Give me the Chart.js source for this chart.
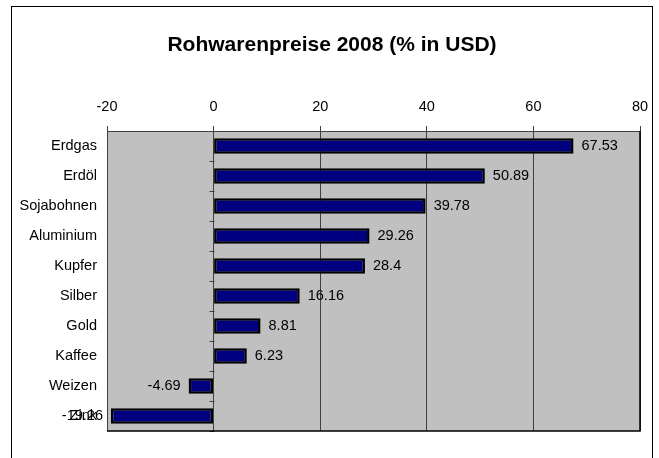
<!DOCTYPE html>
<html>
<head>
<meta charset="utf-8">
<script src="https://cdn.jsdelivr.net/npm/chart.js@4/dist/chart.umd.min.js"></script>
<style>
  html, body { margin: 0; padding: 0; background: #fff; }
  #wrap { width: 659px; height: 458px; }
</style>
</head>
<body>
<div id="wrap"><canvas id="c" width="659" height="458"></canvas></div>
<script>
// data
const categories = ['Erdgas', 'Erdöl', 'Sojabohnen', 'Aluminium', 'Kupfer', 'Silber', 'Gold', 'Kaffee', 'Weizen', 'Zink'];
const values = [67.53, 50.89, 39.78, 29.26, 28.4, 16.16, 8.81, 6.23, -4.69, -19.26];
const xMin = -20, xMax = 80, xStep = 20;
const titleText = 'Rohwarenpreise 2008 (% in USD)';

const FONT = '"Liberation Sans", Arial, sans-serif';
const GRID = '#404040';

// gray plot area, outer frame and title
const bgPlugin = {
    id: 'bg',
    beforeDraw(chart) {
        const { ctx, chartArea: a } = chart;
        ctx.save();
        ctx.fillStyle = '#fff';
        ctx.fillRect(0, 0, chart.width, chart.height);
        ctx.fillStyle = '#c0c0c0';
        ctx.fillRect(a.left, a.top, a.right - a.left, a.bottom - a.top);
        //frame round the whole chart
        ctx.strokeStyle = '#000';
        ctx.lineWidth = 1;
        ctx.strokeRect(11.5, 6.5, 641, chart.height);
        //title, centred in the frame
        ctx.fillStyle = '#000';
        ctx.font = 'bold 21px ' + FONT;
        ctx.textAlign = 'center';
        ctx.textBaseline = 'middle';
        ctx.fillText(titleText, 332, 45);
        ctx.restore();
    },
    beforeDatasetsDraw(chart) {
        const { ctx, chartArea: a, scales } = chart;
        const x0 = Math.round(scales.x.getPixelForValue(0)) + 0.5;
        ctx.save();
        ctx.strokeStyle = GRID;
        ctx.lineWidth = 1;
        ctx.beginPath();
        //small tick marks on the category axis (at zero)
        for (let i = 0; i <= categories.length; i++) {
            const y = Math.round(scales.y.getPixelForValue(i - 0.5)) + 0.5;
            ctx.moveTo(x0 - 5, y);
            ctx.lineTo(x0, y);
        }
        ctx.stroke();
        //black right and bottom border of the plot
        ctx.strokeStyle = '#000';
        ctx.lineWidth = 1.5;
        ctx.beginPath();
        ctx.moveTo(a.right, a.top);
        ctx.lineTo(a.right, a.bottom);
        ctx.lineTo(a.left, a.bottom);
        ctx.stroke();
        ctx.restore();
    }
};

// value labels next to the bar ends
const labelPlugin = {
    id: 'vlabels',
    afterDatasetsDraw(chart) {
        const { ctx } = chart;
        const meta = chart.getDatasetMeta(0);
        ctx.save();
        ctx.font = '14.5px ' + FONT;
        ctx.fillStyle = '#000';
        ctx.textBaseline = 'middle';
        meta.data.forEach((bar, i) => {
            const v = values[i];
            if (v >= 0) {
                ctx.textAlign = 'left';
                ctx.fillText(String(v), bar.x + 8, bar.y);
            } else {
                ctx.textAlign = 'right';
                ctx.fillText(String(v), bar.x - 8, bar.y);
            }
        });
        ctx.restore();
    }
};

new Chart(document.getElementById('c'), {
    type: 'bar',
    data: {
        labels: categories,
        datasets: [{
            data: values,
            backgroundColor: '#000080',
            borderColor: '#000',
            borderWidth: 2.5,
            borderSkipped: false,
            barPercentage: 0.52,
            categoryPercentage: 1
        }]
    },
    options: {
        indexAxis: 'y',
        responsive: false,
        animation: false,
        layout: { padding: { left: 0, right: 19, top: 67, bottom: 27 } },
        plugins: {
            legend: { display: false },
            tooltip: { enabled: false },
            title: { display: false }
        },
        scales: {
            x: {
                position: 'top',
                min: xMin,
                max: xMax,
                ticks: { stepSize: xStep, color: '#000', font: { family: FONT, size: 14.5 }, padding: 10 },
                grid: { color: GRID, lineWidth: 1, tickLength: 5 },
                border: { color: GRID, width: 1 },
                afterFit(scale) { scale.height = 131 - 67; }
            },
            y: {
                ticks: { color: '#000', font: { family: FONT, size: 14.5 }, padding: 10 },
                grid: { display: false, drawTicks: false },
                border: { display: false },
                afterFit(scale) { scale.width = 107; }
            }
        }
    },
    plugins: [bgPlugin, labelPlugin]
});
</script>
</body>
</html>
